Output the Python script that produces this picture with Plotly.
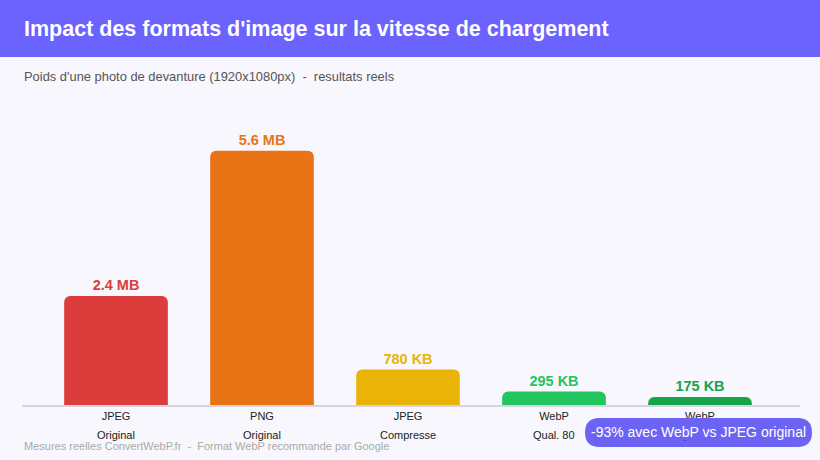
import plotly.graph_objects as go

# ---- data ----
formats = ["JPEG", "PNG", "JPEG", "WebP", "WebP"]
variants = ["Original", "Original", "Compresse", "Qual. 80", "Qual. 50"]
sizes_mb = [2.4, 5.6, 0.78, 0.295, 0.175]
size_labels = ["2.4 MB", "5.6 MB", "780 KB", "295 KB", "175 KB"]
bar_colors = ["#dc3c3c", "#e87416", "#e9b308", "#22c55e", "#16a34a"]

title_text = "Impact des formats d'image sur la vitesse de chargement"
subtitle_text = "Poids d'une photo de devanture (1920x1080px)  -  resultats reels"
footer_text = "Mesures reelles ConvertWebP.fr  -  Format WebP recommande par Google"
badge_text = "-93% avec WebP vs JPEG original"

FONT = "Liberation Sans, Arial, sans-serif"
W, H = 820, 460
ML, MR, MT, MB = 22, 20, 110, 55
PW = W - ML - MR
PH = H - MT - MB


def px(xp):
    return (xp - ML) / PW


def py(yp):
    return (H - MB - yp) / PH


x_idx = list(range(len(formats)))

fig = go.Figure()
fig.add_trace(go.Bar(
    x=x_idx,
    y=sizes_mb,
    width=0.71,
    marker=dict(color=bar_colors, line=dict(width=0)),
    text=size_labels,
    textposition="outside",
    textfont=dict(family=FONT, size=14.5, color=bar_colors, weight="bold"),
    cliponaxis=False,
    hoverinfo="skip",
))

annotations = []
# title & subtitle
annotations.append(dict(text="<b>" + title_text + "</b>", x=0, xref="paper", xanchor="left",
                        y=py(28.5), yref="paper", yanchor="middle", showarrow=False,
                        font=dict(family=FONT, size=21.5, color="#ffffff")))
annotations.append(dict(text=subtitle_text, x=0, xref="paper", xanchor="left",
                        y=py(76), yref="paper", yanchor="middle", showarrow=False,
                        font=dict(family=FONT, size=12.9, color="#555555")))
# second line of category labels
for i, v in zip(x_idx, variants):
    annotations.append(dict(text=v, x=i, xref="x", xanchor="center",
                            y=py(435), yref="paper", yanchor="middle", showarrow=False,
                            font=dict(family=FONT, size=11, color="#222222")))
# footer
annotations.append(dict(text=footer_text, x=0, xref="paper", xanchor="left",
                        y=py(446), yref="paper", yanchor="middle", showarrow=False,
                        font=dict(family=FONT, size=11, color="#aaaaaa")))
# badge text (bg covers hidden label beneath)
annotations.append(dict(text=badge_text, x=px(698.5), xref="paper", xanchor="center",
                        y=py(432), yref="paper", yanchor="middle", showarrow=False,
                        bgcolor="#6c63f5", borderpad=0,
                        font=dict(family=FONT, size=14, color="#ffffff")))

# rounded pill path for badge
bw, bh, r = 227, 29, 14.5
hw, hh = bw / 2, bh / 2
pill = (f"M {-hw + r},{-hh} L {hw - r},{-hh} Q {hw},{-hh} {hw},0 Q {hw},{hh} {hw - r},{hh} "
        f"L {-hw + r},{hh} Q {-hw},{hh} {-hw},0 Q {-hw},{-hh} {-hw + r},{-hh} Z")

shapes = [
    dict(type="rect", xref="paper", yref="paper", x0=px(0), x1=px(W), y0=py(0), y1=py(57),
         fillcolor="#6c63ff", line=dict(width=0), layer="below"),
    dict(type="path", xref="paper", yref="paper", xsizemode="pixel", ysizemode="pixel",
         xanchor=px(698.5), yanchor=py(432.5), path=pill,
         fillcolor="#6c63f5", line=dict(width=0), layer="above"),
]

fig.update_layout(
    width=W, height=H,
    margin=dict(l=ML, r=MR, t=MT, b=MB),
    paper_bgcolor="#f7f7fd",
    plot_bgcolor="#f7f7fd",
    barcornerradius=6,
    showlegend=False,
    xaxis=dict(range=[-0.644, 4.685], tickmode="array", tickvals=x_idx, ticktext=formats,
               tickfont=dict(family=FONT, size=11, color="#222222"),
               showgrid=False, zeroline=False, showline=True, linecolor="#d4d4e6",
               linewidth=2, ticks="", fixedrange=True),
    yaxis=dict(range=[0, 6.5], showgrid=False, zeroline=False, showline=False,
               showticklabels=False, ticks="", fixedrange=True),
    annotations=annotations,
    shapes=shapes,
)

fig.write_html("out.html")
